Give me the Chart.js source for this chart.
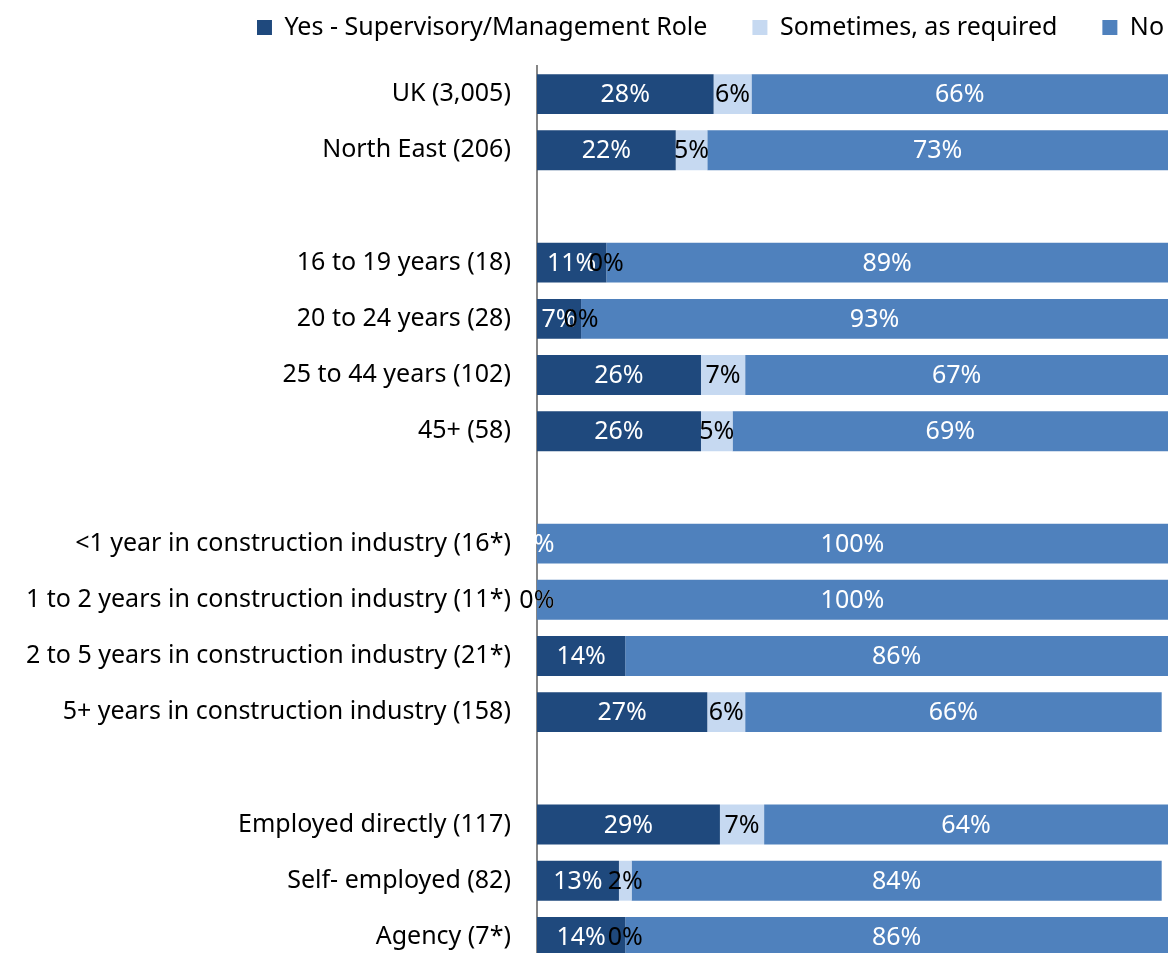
<!DOCTYPE html>
<html>
<head>
<meta charset="utf-8">
<script src="https://cdn.jsdelivr.net/npm/chart.js@4"></script>
<style>
  html, body { margin: 0; padding: 0; background: #fff; overflow: hidden; }
</style>
</head>
<body>
<canvas id="barChart" width="1170" height="1006"></canvas>
<script>
const categories = [
  "UK (3,005)", "North East (206)", "",
  "16 to 19 years (18)", "20 to 24 years (28)", "25 to 44 years (102)", "45+ (58)", "",
  "<1 year in construction industry (16*)", "1 to 2 years in construction industry (11*)",
  "2 to 5 years in construction industry (21*)", "5+ years in construction industry (158)", "",
  "Employed directly (117)", "Self- employed (82)", "Agency (7*)"
];
const seriesNames = ["Yes - Supervisory/Management Role", "Sometimes, as required", "No"];
const yesRole = [28, 22, null, 11, 7, 26, 26, null, 0, 0, 14, 27, null, 29, 13, 14];
const sometimes = [6, 5, null, 0, 0, 7, 5, null, null, 0, null, 6, null, 7, 2, 0];
const noRole = [66, 73, null, 89, 93, 67, 69, null, 100, 100, 86, 66, null, 64, 84, 86];

const FONT = "'Noto Sans', sans-serif";
const FONT_SIZE = 25;
const LEGEND_GAP = 45;

// draws the % value in the middle of each bar segment
const barLabels = {
  id: "barLabels",
  afterDatasetsDraw(chart) {
    const ctx = chart.ctx;
    ctx.save();
    ctx.font = FONT_SIZE + "px " + FONT;
    ctx.textAlign = "center";
    ctx.textBaseline = "middle";
    chart.data.datasets.forEach(function (ds, i) {
      const meta = chart.getDatasetMeta(i);
      meta.data.forEach(function (bar, j) {
        const v = ds.data[j];
        if (v === null || v === undefined) return;
        ctx.fillStyle = ds.labelColor;
        ctx.fillText(v + "%", (bar.x + bar.base) / 2, bar.y + 1);
      });
    });
    ctx.restore();
  }
};

// legend uses a wide gap between items, keep it short and near the top
const legendFit = {
  id: "legendFit",
  beforeInit(chart) {
    const fit = chart.legend.fit;
    chart.legend.fit = function () {
      fit.bind(chart.legend)();
      this.height = 66;
    };
  },
  afterLayout(chart) {
    chart.legend.top = -30;
    chart.legend.right += 41;
  }
};

const CHART = document.getElementById("barChart");
let barChart = new Chart(CHART, {
  type: "bar",
  data: {
    labels: categories,
    datasets: [
      { label: seriesNames[0], data: yesRole, backgroundColor: "#1F497D", labelColor: "#ffffff" },
      { label: seriesNames[1], data: sometimes, backgroundColor: "#C6D9F1", labelColor: "#000000" },
      { label: seriesNames[2], data: noRole, backgroundColor: "#4F81BD", labelColor: "#ffffff" }
    ]
  },
  options: {
    indexAxis: "y",
    responsive: false,
    animation: false,
    layout: { padding: { top: 0, right: 2, bottom: 2, left: 0 } },
    datasets: { bar: { categoryPercentage: 1, barPercentage: 0.71 } },
    plugins: {
      tooltip: { enabled: false },
      legend: {
        position: "top",
        align: "end",
        labels: {
          font: { family: FONT, size: FONT_SIZE },
          color: "#000",
          boxWidth: 15,
          boxHeight: 15,
          padding: LEGEND_GAP
        }
      }
    },
    scales: {
      x: { stacked: true, min: 0, max: 100, display: false },
      y: {
        stacked: true,
        grid: { display: false, drawTicks: false },
        border: { display: true, color: "#868686", width: 2 },
        ticks: { font: { family: FONT, size: FONT_SIZE }, color: "#000", padding: 26, autoSkip: false }
      }
    }
  },
  plugins: [barLabels, legendFit]
});
</script>
</body>
</html>
